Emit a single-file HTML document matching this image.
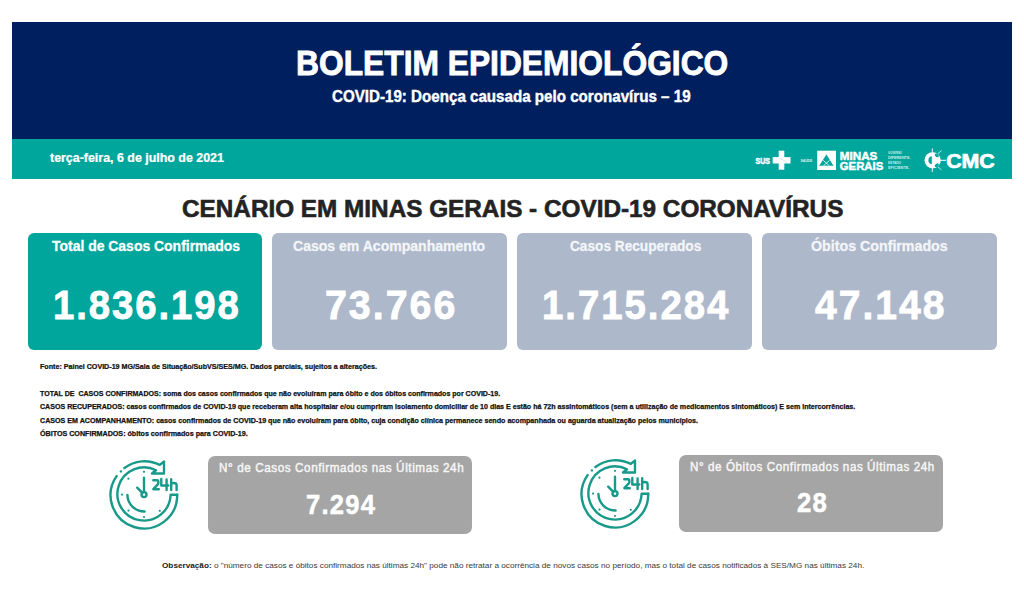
<!DOCTYPE html>
<html><head><meta charset="utf-8"><style>
html,body{margin:0;padding:0;background:#ffffff;width:1024px;height:607px;overflow:hidden;position:relative}
.t{position:absolute;font-family:"Liberation Sans",sans-serif;line-height:1;white-space:nowrap;transform-origin:0 0}
.r{position:absolute}
</style></head><body>
<div class="r" style="left:12px;top:22px;width:1000px;height:117px;background:#001f5e"></div>
<div class="r" style="left:12px;top:139px;width:1000px;height:39.5px;background:#00a59c"></div>
<div class="r" style="left:27.5px;top:233px;width:234.5px;height:117px;background:#00a59c;border-radius:6px"></div>
<div class="r" style="left:272px;top:233px;width:235px;height:117px;background:#adb8cb;border-radius:6px"></div>
<div class="r" style="left:517px;top:233px;width:235px;height:117px;background:#adb8cb;border-radius:6px"></div>
<div class="r" style="left:762px;top:233px;width:235px;height:117px;background:#adb8cb;border-radius:6px"></div>
<div class="r" style="left:208px;top:456px;width:264px;height:78px;background:#a5a5a5;border-radius:7px"></div>
<div class="r" style="left:679px;top:455px;width:264px;height:77px;background:#a5a5a5;border-radius:7px"></div>
<svg class="r" style="left:105px;top:455px" width="80" height="80" viewBox="0 0 80 80"><g fill="none" stroke="#18998a" stroke-width="2.4" stroke-linecap="round" stroke-linejoin="round">
<path d="M72.2 39.8 A33.3 33.3 0 1 1 11.6 21.1"/>
<path d="M19.4 13 A33.3 33.3 0 0 1 54.8 9.9 L59 6.5 L59 18.5 L47 18.5 L51 15.2 A26.6 26.6 0 1 0 65.6 39.8 L72.2 39.8"/>
<circle cx="39" cy="39.6" r="2.5"/>
<path d="M39 22.8 L39 37.1 M32.2 32.7 L37.3 37.8"/>
<path d="M22.4 40 A17 17 0 0 0 39.6 56.5"/>
<path d="M48.3 25.2 L52 25.2 Q53.3 25.2 53.3 26.5 L53.3 28.3 Q53.3 29 52.6 29.7 L48.3 34.2 L53.8 34.2"/>
<path d="M56.3 24 L56.3 30.5 L63.3 30.5 M61.6 24.5 L61.6 35"/>
<path d="M66.2 24.2 L66.2 35 M66.2 29.8 Q66.2 28 68.6 28 Q71.6 28 71.6 30.2 L71.6 35"/>
</g>
<g fill="#18998a">
<circle cx="15.9" cy="16.4" r="1.2"/>
<circle cx="39" cy="16.8" r="1.1"/><circle cx="23.4" cy="23.7" r="1.1"/><circle cx="17" cy="39.6" r="1.1"/>
<circle cx="23.5" cy="55.6" r="1.1"/><circle cx="39" cy="62" r="1.1"/><circle cx="54.8" cy="55.8" r="1.1"/>
</g>
</svg>
<svg class="r" style="left:576px;top:454px" width="80" height="80" viewBox="0 0 80 80"><g fill="none" stroke="#18998a" stroke-width="2.4" stroke-linecap="round" stroke-linejoin="round">
<path d="M72.2 39.8 A33.3 33.3 0 1 1 11.6 21.1"/>
<path d="M19.4 13 A33.3 33.3 0 0 1 54.8 9.9 L59 6.5 L59 18.5 L47 18.5 L51 15.2 A26.6 26.6 0 1 0 65.6 39.8 L72.2 39.8"/>
<circle cx="39" cy="39.6" r="2.5"/>
<path d="M39 22.8 L39 37.1 M32.2 32.7 L37.3 37.8"/>
<path d="M22.4 40 A17 17 0 0 0 39.6 56.5"/>
<path d="M48.3 25.2 L52 25.2 Q53.3 25.2 53.3 26.5 L53.3 28.3 Q53.3 29 52.6 29.7 L48.3 34.2 L53.8 34.2"/>
<path d="M56.3 24 L56.3 30.5 L63.3 30.5 M61.6 24.5 L61.6 35"/>
<path d="M66.2 24.2 L66.2 35 M66.2 29.8 Q66.2 28 68.6 28 Q71.6 28 71.6 30.2 L71.6 35"/>
</g>
<g fill="#18998a">
<circle cx="15.9" cy="16.4" r="1.2"/>
<circle cx="39" cy="16.8" r="1.1"/><circle cx="23.4" cy="23.7" r="1.1"/><circle cx="17" cy="39.6" r="1.1"/>
<circle cx="23.5" cy="55.6" r="1.1"/><circle cx="39" cy="62" r="1.1"/><circle cx="54.8" cy="55.8" r="1.1"/>
</g>
</svg>
<svg class="r" style="left:740px;top:140px" width="270" height="38" viewBox="740 140 270 38">
<g fill="#ffffff">
<text x="755.6" y="163.5" font-family="Liberation Sans" font-weight="bold" font-size="8.6" textLength="14.4" lengthAdjust="spacingAndGlyphs" stroke="#fff" stroke-width="0.5">SUS</text>
<rect x="778.7" y="150.7" width="5.6" height="19"/>
<rect x="772.7" y="157.1" width="17.8" height="6.4"/>
<text x="800.4" y="161.9" font-family="Liberation Sans" font-weight="bold" font-size="3.2" textLength="12" lengthAdjust="spacingAndGlyphs" opacity="0.85">SAÚDE</text>
<rect x="817.2" y="150.7" width="18.8" height="19.3"/>
<text x="839.8" y="159.8" font-family="Liberation Sans" font-weight="bold" font-size="11.8" textLength="37.6" lengthAdjust="spacingAndGlyphs" stroke="#fff" stroke-width="0.5">MINAS</text>
<text x="839.8" y="169.6" font-family="Liberation Sans" font-weight="bold" font-size="11.4" textLength="43.4" lengthAdjust="spacingAndGlyphs" stroke="#fff" stroke-width="0.5">GERAIS</text>
<g font-family="Liberation Sans" font-weight="bold" font-size="2.6" opacity="0.8">
<text x="888" y="154" textLength="14" lengthAdjust="spacingAndGlyphs">GOVERNO</text>
<text x="888" y="159.4" textLength="22.5" lengthAdjust="spacingAndGlyphs">DIFERENTE.</text>
<text x="888" y="164.1" textLength="13" lengthAdjust="spacingAndGlyphs">ESTADO</text>
<text x="888" y="168.9" textLength="21.5" lengthAdjust="spacingAndGlyphs">EFICIENTE.</text>
</g>
<text x="946.2" y="167.8" font-family="Liberation Sans" font-weight="bold" font-size="19.6" textLength="48.6" lengthAdjust="spacingAndGlyphs" stroke="#fff" stroke-width="0.7">CMC</text>
<circle cx="932.6" cy="160.3" r="8.1"/>
</g>
<path d="M780 158 L787.5 163" stroke="#00a59c" stroke-width="0.5" opacity="0.4"/>
<path d="M826.4 154.6 L833.5 165.8 L819.2 165.8 Z" fill="#00a59c"/>
<path d="M823.2 160.3 L829.3 165.8 M829.6 160.3 L823.5 165.8" stroke="#ffffff" stroke-width="0.8"/>
<g fill="#00a59c">
<path d="M932.3 156.3 A3.9 4 0 0 0 932.3 164.3 Z"/>
<ellipse cx="936.8" cy="155.4" rx="2.3" ry="1.5" transform="rotate(35 936.8 155.4)"/>
<ellipse cx="936.8" cy="165.2" rx="2.3" ry="1.5" transform="rotate(-35 936.8 165.2)"/>
</g>
<g stroke="#ffffff">
<line x1="932.3" y1="148.4" x2="932.3" y2="172" stroke-width="0.9"/>
<line x1="940" y1="160.3" x2="946" y2="160.3" stroke-width="1"/>
<line x1="938" y1="153.5" x2="941.5" y2="150.6" stroke-width="0.7"/>
<line x1="938" y1="167" x2="941.5" y2="169.9" stroke-width="0.7"/>
</g>
</svg>

<div class="t" id="title" style="left:296.07px;top:46.12px;font-size:34.27px;font-weight:bold;color:#ffffff;transform:scaleX(0.9269);letter-spacing:0.0px;-webkit-text-stroke:0.86px #ffffff;">BOLETIM EPIDEMIOLÓGICO</div>
<div class="t" id="sub" style="left:331.8px;top:88.07px;font-size:16.36px;font-weight:bold;color:#ffffff;transform:scaleX(0.9258);letter-spacing:0.0px;-webkit-text-stroke:0.41px #ffffff;">COVID-19: Doença causada pelo coronavírus – 19</div>
<div class="t" id="date" style="left:49.83px;top:151.67px;font-size:12.05px;font-weight:bold;color:#ffffff;transform:scaleX(1.0306);letter-spacing:0.0px;-webkit-text-stroke:0.24px #ffffff;">terça-feira, 6 de julho de 2021</div>
<div class="t" id="head" style="left:181.8px;top:196.71px;font-size:23.78px;font-weight:bold;color:#232323;transform:scaleX(1.0229);letter-spacing:0.0px;-webkit-text-stroke:0.59px #232323;">CENÁRIO EM MINAS GERAIS - COVID-19 CORONAVÍRUS</div>
<div class="t" id="ct1" style="left:51.65px;top:239.48px;font-size:14.65px;font-weight:bold;color:#ffffff;transform:scaleX(0.9525);letter-spacing:0.0px;-webkit-text-stroke:0.29px #ffffff;">Total de Casos Confirmados</div>
<div class="t" id="ct2" style="left:293.4px;top:239.48px;font-size:14.65px;font-weight:bold;color:#f3f5f8;transform:scaleX(0.9587);letter-spacing:0.0px;-webkit-text-stroke:0.29px #f3f5f8;">Casos em Acompanhamento</div>
<div class="t" id="ct3" style="left:569.5px;top:239.48px;font-size:14.65px;font-weight:bold;color:#f3f5f8;transform:scaleX(0.9326);letter-spacing:0.0px;-webkit-text-stroke:0.29px #f3f5f8;">Casos Recuperados</div>
<div class="t" id="ct4" style="left:811.0px;top:239.48px;font-size:14.65px;font-weight:bold;color:#f3f5f8;transform:scaleX(0.9716);letter-spacing:0.0px;-webkit-text-stroke:0.29px #f3f5f8;">Óbitos Confirmados</div>
<div class="t" id="cn1" style="left:53.07px;top:284.63px;font-size:41.23px;font-weight:bold;color:#ffffff;transform:scaleX(0.9296);letter-spacing:2.06px;-webkit-text-stroke:0.82px #ffffff;">1.836.198</div>
<div class="t" id="cn2" style="left:325.04px;top:284.63px;font-size:41.23px;font-weight:bold;color:#ffffff;transform:scaleX(0.9556);letter-spacing:2.06px;-webkit-text-stroke:0.82px #ffffff;">73.766</div>
<div class="t" id="cn3" style="left:542.07px;top:284.63px;font-size:41.23px;font-weight:bold;color:#ffffff;transform:scaleX(0.9325);letter-spacing:2.06px;-webkit-text-stroke:0.82px #ffffff;">1.715.284</div>
<div class="t" id="cn4" style="left:815.45px;top:284.63px;font-size:41.23px;font-weight:bold;color:#ffffff;transform:scaleX(0.9489);letter-spacing:2.06px;-webkit-text-stroke:0.82px #ffffff;">47.148</div>
<div class="t" id="s1" style="left:40.0px;top:363.95px;font-size:6.9px;font-weight:bold;color:#111111;transform:scaleX(1.0338);letter-spacing:0.0px;-webkit-text-stroke:0.24px #111111;">Fonte: Painel COVID-19 MG/Sala de Situação/SubVS/SES/MG. Dados parciais, sujeitos a alterações.</div>
<div class="t" id="s2" style="left:40.21px;top:390.03px;font-size:7.03px;font-weight:bold;color:#111111;transform:scaleX(1.0054);letter-spacing:0.0px;-webkit-text-stroke:0.25px #111111;">TOTAL DE &nbsp;CASOS CONFIRMADOS: soma dos casos confirmados que não evoluíram para óbito e dos óbitos confirmados por COVID-19.</div>
<div class="t" id="s3" style="left:40.0px;top:403.43px;font-size:7.03px;font-weight:bold;color:#111111;transform:scaleX(1.0087);letter-spacing:0.0px;-webkit-text-stroke:0.25px #111111;">CASOS RECUPERADOS: casos confirmados de COVID-19 que receberam alta hospitalar e/ou cumpriram isolamento domiciliar de 10 dias E estão há 72h assintomáticos (sem a utilização de medicamentos sintomáticos) E sem intercorrências.</div>
<div class="t" id="s4" style="left:40.0px;top:416.53px;font-size:7.03px;font-weight:bold;color:#111111;transform:scaleX(1.0146);letter-spacing:0.0px;-webkit-text-stroke:0.25px #111111;">CASOS EM ACOMPANHAMENTO: casos confirmados de COVID-19 que não evoluíram para óbito, cuja condição clínica permanece sendo acompanhada ou aguarda atualização pelos municípios.</div>
<div class="t" id="s5" style="left:40.0px;top:430.03px;font-size:7.03px;font-weight:bold;color:#111111;transform:scaleX(1.0172);letter-spacing:0.0px;-webkit-text-stroke:0.25px #111111;">ÓBITOS CONFIRMADOS: óbitos confirmados para COVID-19.</div>
<div class="t" id="bt1" style="left:219.0px;top:461.62px;font-size:12.97px;font-weight:normal;color:#f7f7f7;transform:scaleX(0.9018);letter-spacing:0.65px;-webkit-text-stroke:0.45px #f7f7f7;">N° de Casos Confirmados nas Últimas 24h</div>
<div class="t" id="bt2" style="left:689.7px;top:460.94px;font-size:12.83px;font-weight:normal;color:#f7f7f7;transform:scaleX(0.9059);letter-spacing:0.64px;-webkit-text-stroke:0.45px #f7f7f7;">N° de Óbitos Confirmados nas Últimas 24h</div>
<div class="t" id="bn1" style="left:305.9px;top:490.6px;font-size:27.61px;font-weight:bold;color:#ffffff;transform:scaleX(0.925);letter-spacing:1.38px;-webkit-text-stroke:0.55px #ffffff;">7.294</div>
<div class="t" id="bn2" style="left:797.0px;top:489.21px;font-size:28.08px;font-weight:bold;color:#ffffff;transform:scaleX(0.9152);letter-spacing:1.4px;-webkit-text-stroke:0.56px #ffffff;">28</div>
<div class="t" id="obs" style="left:161.6px;top:561.83px;font-size:7.54px;font-weight:normal;color:#3a3a3a;transform:scaleX(1.088);letter-spacing:0.0px;"><b style="color:#1a1a1a">Observação:</b> o "número de casos e óbitos confirmados nas últimas 24h" pode não retratar a ocorrência de novos casos no período, mas o total de casos notificados à SES/MG nas últimas 24h.</div>
</body></html>
